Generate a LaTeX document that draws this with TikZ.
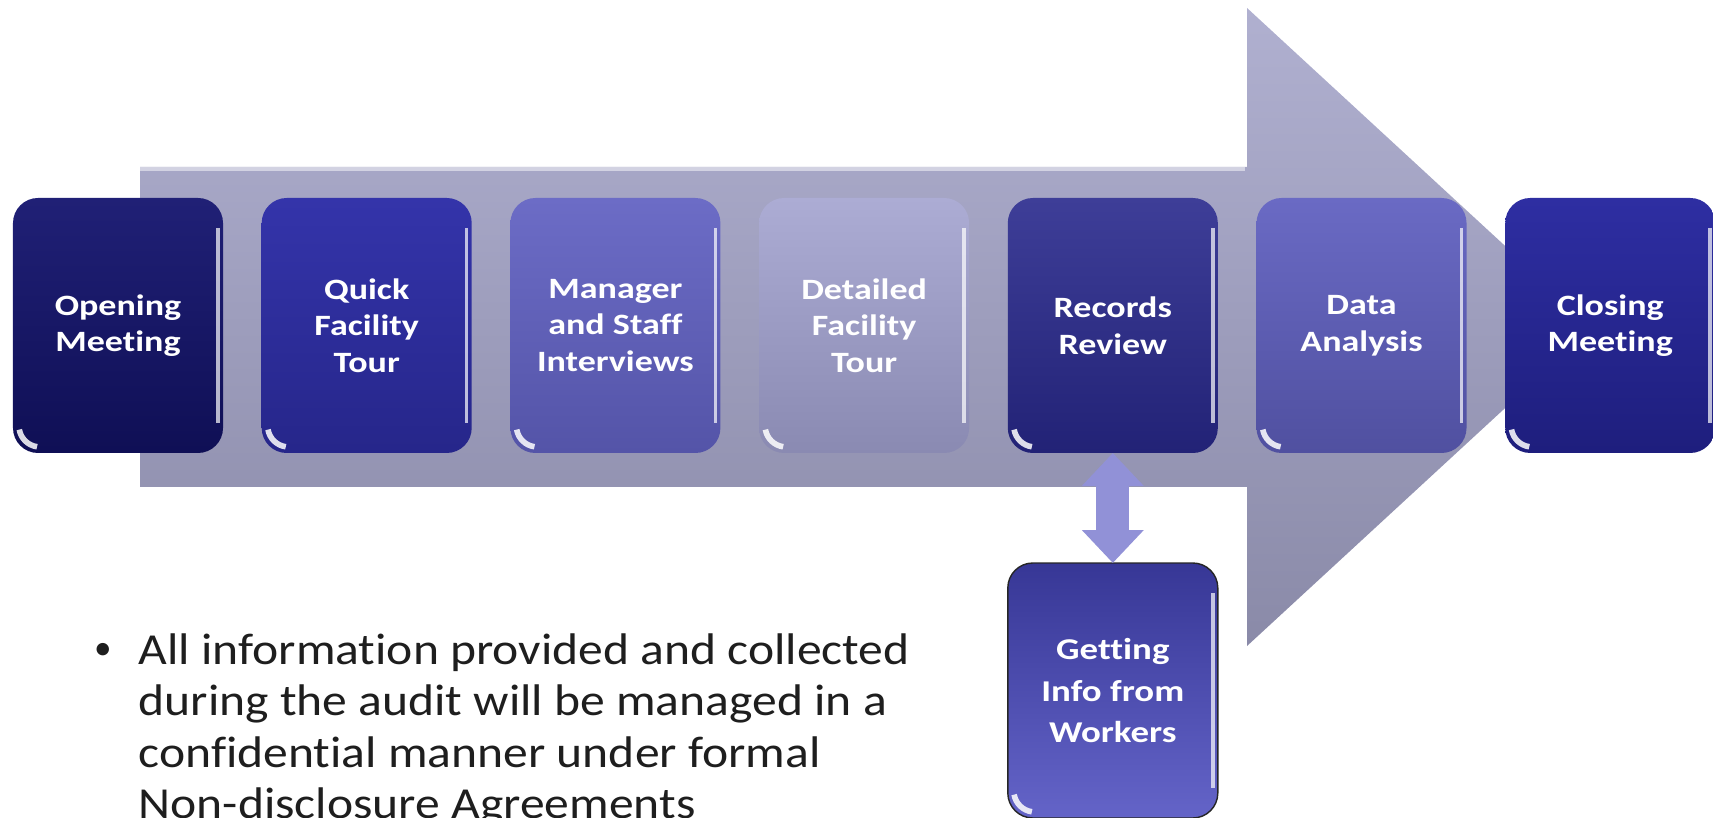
\documentclass[tikz,border=0pt]{standalone}
\usepackage{fontspec}
\setmainfont{Carlito}[RawFeature=-liga]
\newfontfamily\boxfont{Carlito}[FakeStretch=1.22, RawFeature=-liga]
\newfontfamily\notefont{Carlito}[FakeStretch=1.12, RawFeature=-liga]
\usetikzlibrary{positioning,arrows.meta}

\definecolor{arrowtop}{RGB}{176,176,208}
\definecolor{arrowbot}{RGB}{138,138,168}
\definecolor{linkc}{RGB}{145,145,215}
\definecolor{notec}{RGB}{30,30,30}

\tikzset{
  stepbox/.style={rounded corners=0.25cm, minimum width=2.1cm, minimum height=2.55cm,
    inner sep=0pt, outer sep=0pt, align=center, text=white,
    font=\boxfont\bfseries\fontsize{8.4}{10.4}\selectfont,
    path picture={
      \draw[white, opacity=.7, line width=1pt]
        ([shift={(-0.05,-0.3)}]path picture bounding box.north east)
        -- ([shift={(-0.05,0.3)}]path picture bounding box.south east);
      \draw[white, opacity=.85, line width=1.6pt]
        ([shift={(0.063,0.234)}]path picture bounding box.south west)
        arc[start angle=190, end angle=262, radius=0.21];
    }},
  link/.style={line width=3.3mm, linkc, >={Triangle[width=6mm,length=3.3mm]}, <->},
  note/.style={inner sep=0pt, align=left, text=notec, font=\notefont\fontsize{12.6}{14.6}\selectfont},
}

\begin{document}
\begin{tikzpicture}
  \useasboundingbox (0,0) rectangle (17.13,8.17);
  % big arrow
  \shade[top color=arrowtop, bottom color=arrowbot]
    (1.40,6.50) -- (12.47,6.50) -- (12.47,8.09) -- (15.93,4.90)
    -- (12.47,1.71) -- (12.47,3.30) -- (1.40,3.30) -- cycle;
  \draw[white, opacity=.5, line width=1pt] (1.40,6.48) -- (12.45,6.48);
  % steps
  \node[stepbox, top color={rgb,255:red,32;green,32;blue,118}, bottom color={rgb,255:red,15;green,15;blue,85}]
    (om) at (1.18,4.915) {Opening\\Meeting};
  \node[stepbox, top color={rgb,255:red,52;green,52;blue,170}, bottom color={rgb,255:red,38;green,38;blue,138}, right=0.387cm of om]
    (qft) {Quick\\Facility\\Tour};
  \node[stepbox, top color={rgb,255:red,108;green,108;blue,198}, bottom color={rgb,255:red,84;green,84;blue,168}, right=0.387cm of qft]
    (msi) {Manager\\and Staff\\Interviews};
  \node[stepbox, top color={rgb,255:red,172;green,172;blue,212}, bottom color={rgb,255:red,138;green,138;blue,178}, right=0.387cm of msi]
    (dft) {Detailed\\Facility\\Tour};
  \node[stepbox, top color={rgb,255:red,62;green,62;blue,152}, bottom color={rgb,255:red,34;green,34;blue,118}, right=0.387cm of dft]
    (rr) {Records\\Review};
  \node[stepbox, top color={rgb,255:red,106;green,106;blue,196}, bottom color={rgb,255:red,80;green,80;blue,160}, right=0.387cm of rr]
    (da) {Data\\Analysis};
  \node[stepbox, top color={rgb,255:red,46;green,46;blue,162}, bottom color={rgb,255:red,30;green,30;blue,125}, right=0.387cm of da]
    (cm) {Closing\\Meeting};
  % worker input
  \node[stepbox, draw=black!85, thin, top color={rgb,255:red,55;green,55;blue,150}, bottom color={rgb,255:red,100;green,100;blue,200},
    font=\boxfont\bfseries\fontsize{8.6}{11.8}\selectfont, below=1.1cm of rr]
    (gi) {Getting\\Info from\\Workers};
  \draw[link] (rr.south) -- (gi.north);
  % note
  \node[text=notec, inner sep=0pt] (dot) at (1.03,1.66) {\textbullet};
  \node[note, anchor=north west] (txt) at (1.38,1.84)
    {All information provided and collected\\during the audit will be managed in a\\confidential manner under formal\\Non-disclosure Agreements};
\end{tikzpicture}
\end{document}
